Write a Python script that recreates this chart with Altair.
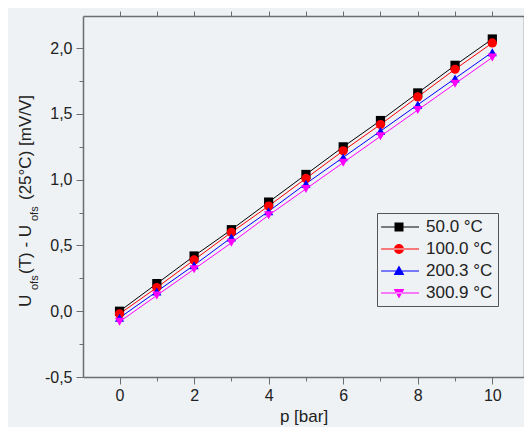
import altair as alt
import pandas as pd

# ---- data ----
pressure = [0, 1, 2, 3, 4, 5, 6, 7, 8, 9, 10]
series = ["50.0 °C", "100.0 °C", "200.3 °C", "300.9 °C"]
u_50 = [0.00, 0.21, 0.42, 0.62, 0.83, 1.04, 1.25, 1.45, 1.66, 1.87, 2.07]
u_100 = [-0.02, 0.18, 0.39, 0.60, 0.80, 1.01, 1.22, 1.42, 1.63, 1.84, 2.04]
u_200 = [-0.05, 0.15, 0.35, 0.56, 0.76, 0.97, 1.17, 1.37, 1.57, 1.77, 1.97]
u_300 = [-0.08, 0.12, 0.32, 0.52, 0.73, 0.93, 1.13, 1.33, 1.53, 1.73, 1.93]
colors = ["#000000", "#ff0000", "#0000ff", "#ff00ff"]
shapes = ["square", "circle", "triangle-up", "triangle-down"]
x_ticks = [0, 1, 2, 3, 4, 5, 6, 7, 8, 9, 10]
y_ticks = [-0.5, -0.25, 0.0, 0.25, 0.5, 0.75, 1.0, 1.25, 1.5, 1.75, 2.0]

# legend symbols: short line with the marker on it
LINE = "M-1.1,-0.06H3.111V0.06H-1.1Z "
legend_shapes = [
    LINE + "M0.389,-0.5H1.389V0.5H0.389Z",
    LINE + "M0.339,0A0.55,0.55 0 1,0 1.439,0A0.55,0.55 0 1,0 0.339,0Z",
    LINE + "M0.889,-0.6L1.489,0.45H0.289Z",
    LINE + "M0.889,0.6L1.489,-0.45H0.289Z",
]

rows = []
for name, vals in zip(series, [u_50, u_100, u_200, u_300]):
    for p, v in zip(pressure, vals):
        rows.append({"p": p, "u": v, "series": name})
df = pd.DataFrame(rows)

FONT = "Liberation Sans"
TXT = "#222222"
AX = "#6e6e6e"

xscale = alt.Scale(domain=[-0.98, 10.85], nice=False, zero=False)
yscale = alt.Scale(domain=[-0.5, 2.245], nice=False, zero=False)
cscale = alt.Scale(domain=series, range=colors)
sscale = alt.Scale(domain=series, range=shapes)

x_major = "datum.value % 2 === 0"
y_major = "abs(datum.value*2 - round(datum.value*2)) < 0.001"

x_axis = alt.Axis(
    values=x_ticks, grid=False, title="p [bar]", orient="bottom",
    labelExpr=f"{x_major} ? format(datum.value, 'd') : ''",
    tickSize={"condition": {"test": x_major, "value": 7}, "value": 4},
    labelPadding=3, titlePadding=5,
)
y_axis = alt.Axis(
    values=y_ticks, grid=False, title=None, orient="left",
    labelExpr=f"{y_major} ? replace(replace(format(datum.value, '.1f'), '.', ','), '\u2212', '-') : ''",
    tickSize={"condition": {"test": y_major, "value": 7}, "value": 4},
    labelPadding=4,
)

base = alt.Chart(df)

lines = base.mark_line(strokeWidth=1).encode(
    x=alt.X("p:Q", scale=xscale, axis=x_axis),
    y=alt.Y("u:Q", scale=yscale, axis=y_axis),
    color=alt.Color("series:N", scale=cscale, legend=None),
)

points = base.mark_point(filled=True, size=85, opacity=1).encode(
    x=alt.X("p:Q", scale=xscale, axis=None),
    y=alt.Y("u:Q", scale=yscale, axis=None),
    color=alt.Color("series:N", scale=cscale, legend=None),
    shape=alt.Shape("series:N", scale=sscale, legend=None),
)

leg = alt.Legend(
    title=None, orient="none", legendX=294, legendY=197,
    padding=5, rowPadding=5, strokeColor="#555555",
    labelFont=FONT, labelFontSize=17, labelColor=TXT, labelOffset=26,
    symbolSize=324, symbolStrokeWidth=0, symbolOpacity=1,
)
legend_layer = base.mark_point(filled=True, size=324, opacity=0).encode(
    x=alt.X("p:Q", scale=xscale, axis=None),
    y=alt.Y("u:Q", scale=yscale, axis=None),
    color=alt.Color("series:N", scale=cscale, legend=leg),
    shape=alt.Shape("series:N", scale=alt.Scale(domain=series, range=legend_shapes), legend=leg),
)

frame = base.mark_point(opacity=0).encode(
    x=alt.X("p:Q", scale=xscale, axis=alt.Axis(orient="top", values=x_ticks, labels=False,
                                                 title=None, grid=False, tickSize=5)),
    y=alt.Y("u:Q", scale=yscale, axis=alt.Axis(orient="right", values=y_ticks, labels=False,
                                                 title=None, grid=False, tickSize=5)),
)

# y-axis title with subscripts, composed from text pieces (rotated)
title_parts = [
    ("U", -52, 291, 17),
    ("ofs", -45, 274, 11),
    ("(T) - U", -52, 258, 17),
    ("ofs", -45, 205, 11),
    ("(25°C) [mV/V]", -52, 184, 17),
]
title_layers = []
for txt, px, py, fs in title_parts:
    title_layers.append(
        alt.Chart(pd.DataFrame({"t": [txt]})).mark_text(
            angle=270, align="left", baseline="alphabetic", font=FONT,
            fontSize=fs, color=TXT,
        ).encode(text="t:N", x=alt.value(px), y=alt.value(py))
    )

chart = alt.layer(lines, points, legend_layer, frame, *title_layers).resolve_scale(
    color="independent", shape="independent"
).resolve_axis(
    x="independent", y="independent"
).properties(
    width=441, height=361,
    padding={"left": 75, "top": 8, "right": 0, "bottom": 50},
    autosize=alt.AutoSizeParams(type="none"),
    background="#eef2f5",
).configure_view(
    stroke=None
).configure_axis(
    labelFont=FONT, labelFontSize=16, labelColor=TXT,
    titleFont=FONT, titleFontSize=17, titleColor=TXT, titleFontWeight="normal",
    domainColor=AX, domainWidth=1.5, tickColor=AX, tickWidth=1,
)

chart.save("out.html", embed_options={"renderer": "svg", "actions": False})
